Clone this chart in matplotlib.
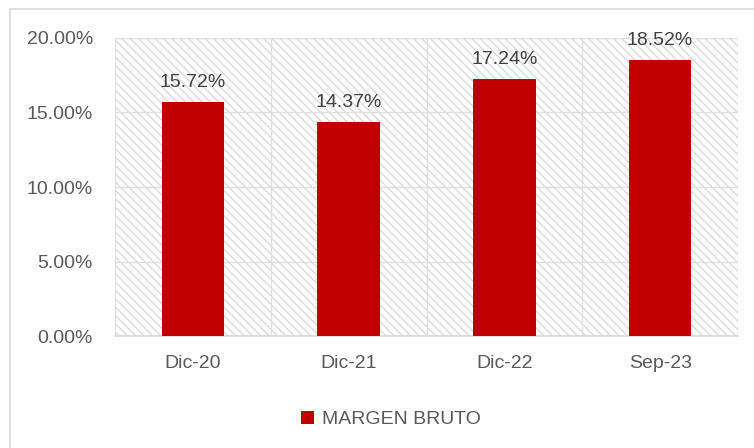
import matplotlib.pyplot as plt
import matplotlib.patches as patches
from matplotlib.ticker import FuncFormatter, FixedLocator

plt.rcParams['font.family'] = ['Liberation Sans', 'DejaVu Sans']
plt.rcParams['hatch.linewidth'] = 0.8
plt.rcParams['hatch.color'] = '#d4d4d4'

# datos
periodos = ['Dic-20', 'Dic-21', 'Dic-22', 'Sep-23']
margen_bruto = [0.1572, 0.1437, 0.1724, 0.1852]
serie = 'MARGEN BRUTO'

rojo = '#C00000'
gris_txt = '#595959'
fs = 14

fig = plt.figure(figsize=(7.54, 4.48), dpi=100)
ax = fig.add_axes([115/754, 112/448, 623/754, 298/448])

# marco exterior (solo se ven borde izquierdo y superior)
fig.patches.append(patches.Rectangle((10/754, -0.1), 1, 1.1 - 9/448, transform=fig.transFigure,
                                     fill=False, edgecolor='#d9d9d9', lw=1.2))

# fondo rayado del área de trazado
ax.add_patch(patches.Rectangle((0, 0), 1, 1, transform=ax.transAxes, facecolor='white',
                               hatch='\\\\\\\\', edgecolor='#d4d4d4', lw=0, zorder=0))

x = range(len(periodos))
bars = ax.bar(x, margen_bruto, width=0.4, color=rojo, zorder=3, label=serie)

for b, v in zip(bars, margen_bruto):
    ax.annotate(f'{v*100:.2f}%', (b.get_x() + b.get_width()/2, v), xytext=(0, 8),
                textcoords='offset points', ha='center', va='bottom',
                fontsize=fs, color='#404040')

ax.set_xlim(-0.5, len(periodos) - 0.5)
ax.set_ylim(0, 0.20)
ax.set_yticks([0, 0.05, 0.10, 0.15, 0.20])
ax.yaxis.set_major_formatter(FuncFormatter(lambda v, p: f'{v*100:.2f}%'))
ax.set_xticks(list(x))
ax.set_xticklabels(periodos)
ax.xaxis.set_minor_locator(FixedLocator([i + 0.5 for i in range(-1, len(periodos))]))

ax.grid(axis='y', which='major', color='#e0e0e0', lw=1, zorder=1)
ax.grid(axis='x', which='minor', color='#e0e0e0', lw=1, zorder=1)
ax.set_axisbelow(True)

for s in ['top', 'right', 'left']:
    ax.spines[s].set_visible(False)
ax.spines['bottom'].set_color('#d9d9d9')
ax.spines['bottom'].set_linewidth(1.2)

ax.tick_params(axis='both', which='both', length=0, labelsize=fs, labelcolor=gris_txt)
ax.tick_params(axis='x', pad=14)
ax.tick_params(axis='y', pad=16)

ax.legend(loc='center', bbox_to_anchor=(0.443, -0.28), frameon=False, fontsize=fs,
          labelcolor=gris_txt, handlelength=0.7, handleheight=0.7, handletextpad=0.4)

fig.savefig('out.png', dpi=100)
